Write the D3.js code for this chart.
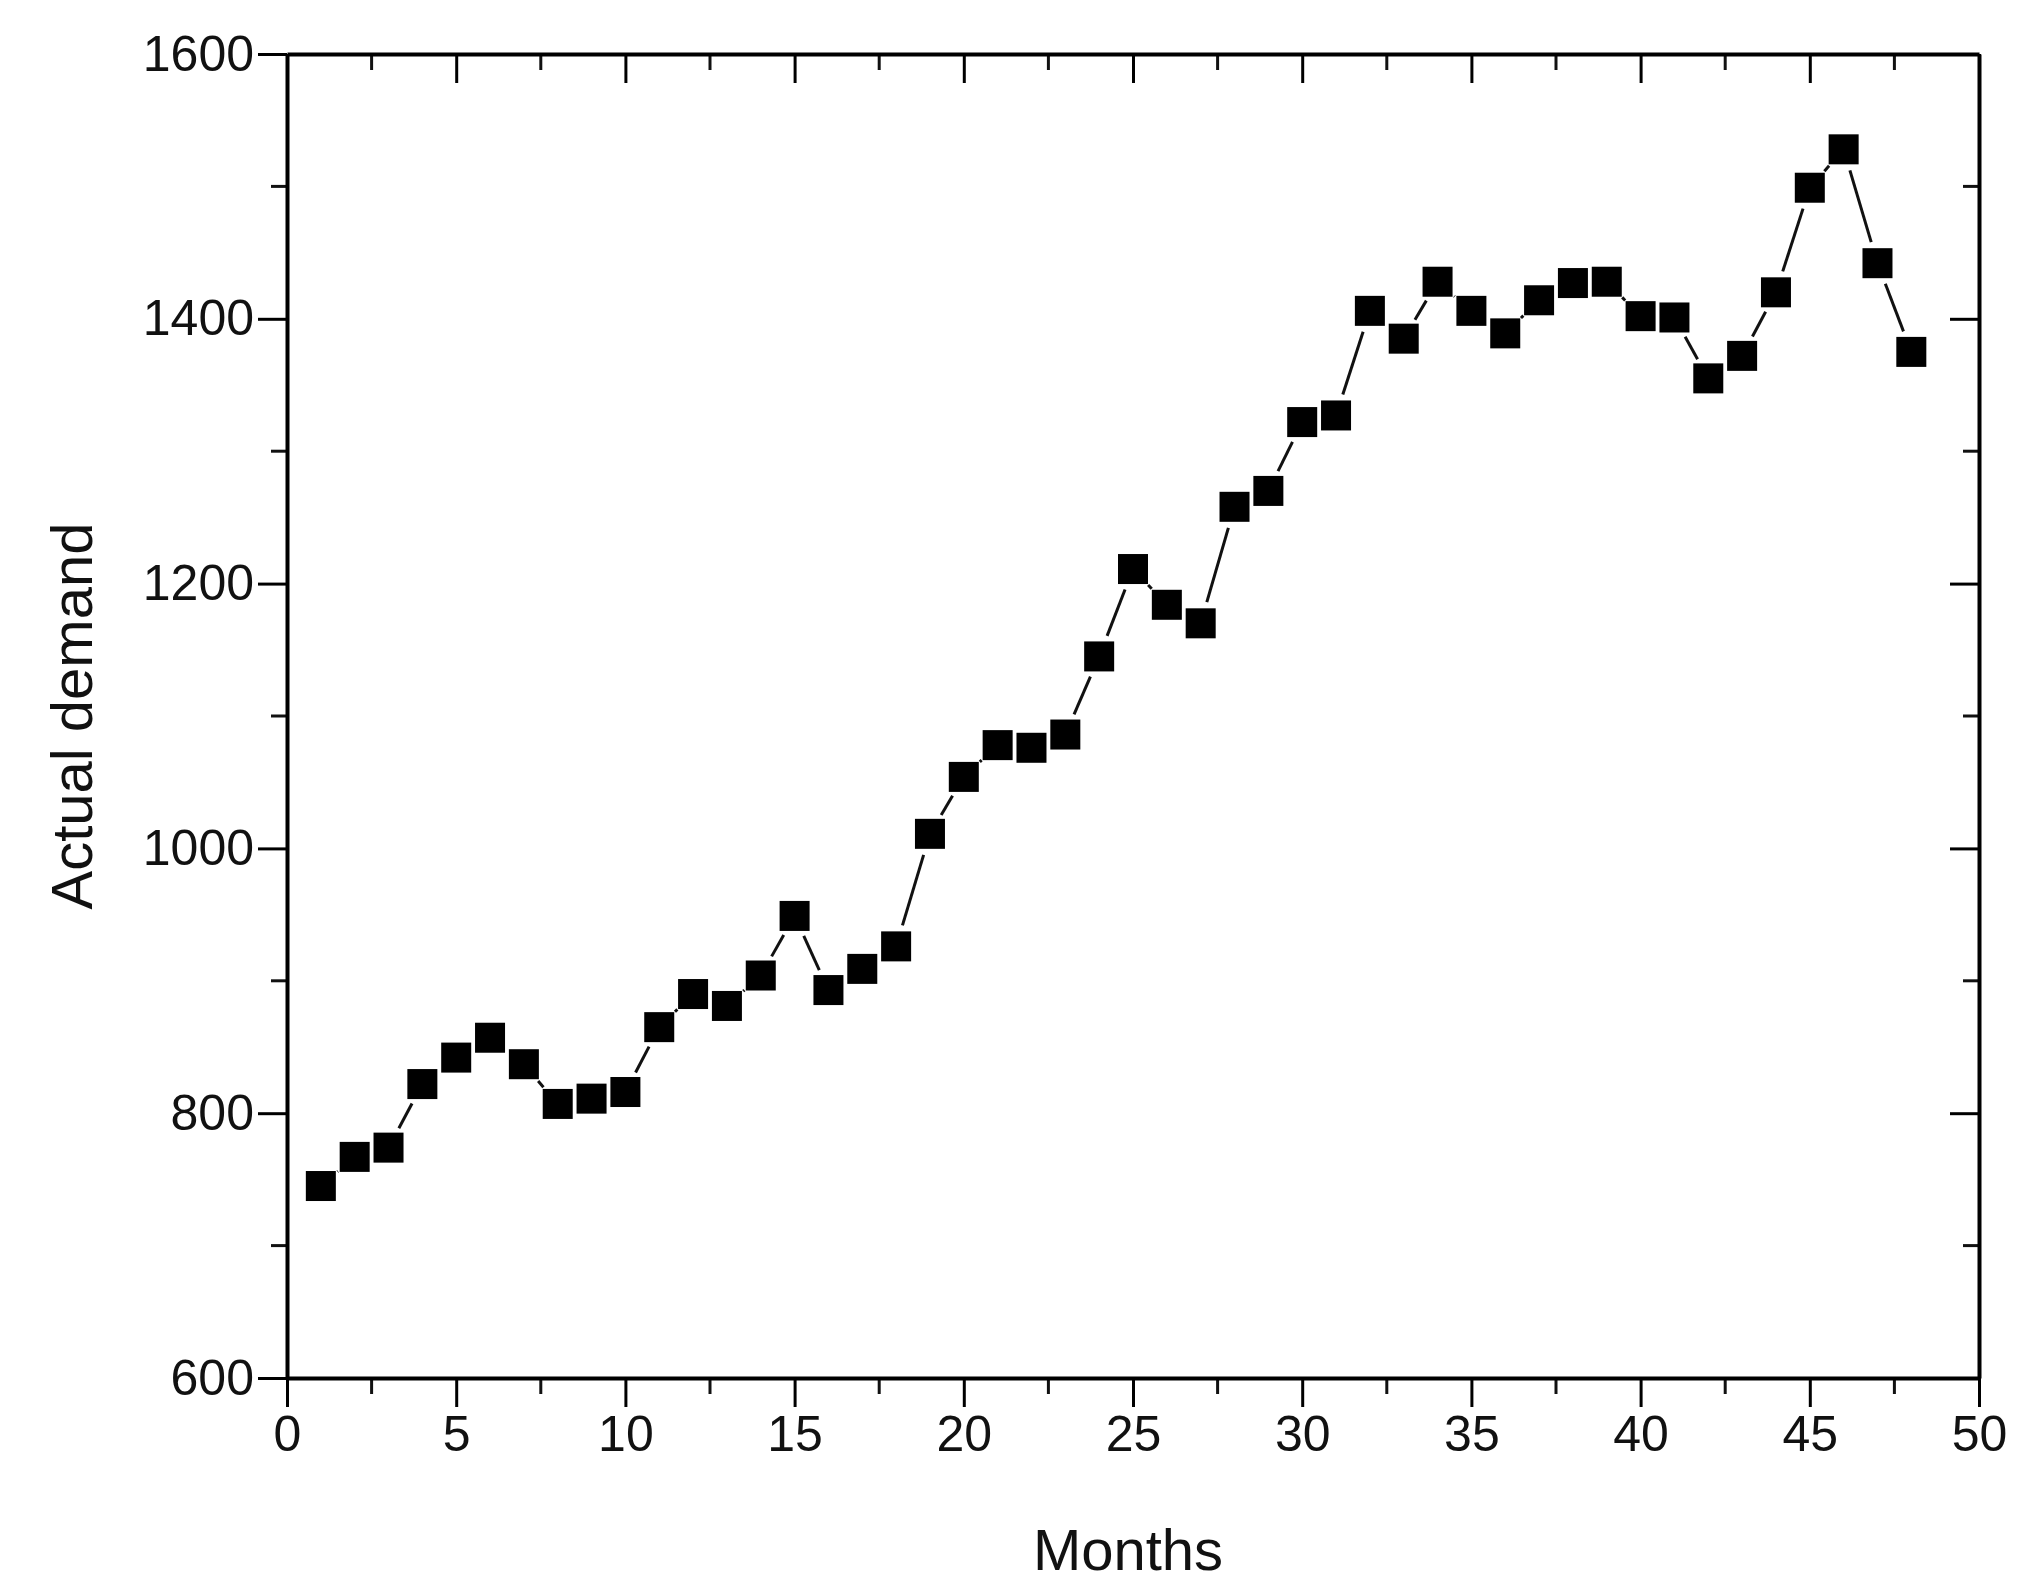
<!DOCTYPE html>
<html><head><meta charset="utf-8">
<script src="https://cdn.jsdelivr.net/npm/d3@7"></script>
<style>body{margin:0;background:#fff}text{font-family:"Liberation Sans",Arial,sans-serif;fill:#111}</style>
</head><body><svg id="chart" width="2029" height="1589"></svg>
<script>
// months and demand
var months = d3.range(1, 49);
var demand = [745,767,774,822,842,857,837,807,811,816,865,890,881,904,949,893,909,926,1011,1054,
  1078,1076,1086,1145,1211,1184,1170,1258,1270,1322,1327,1406,1385,1428,1406,1389,1414,1427,1428,1402,
  1401,1355,1372,1420,1499,1528,1442,1375];
var xTicks = [0,5,10,15,20,25,30,35,40,45,50];
var yTicks = [600,800,1000,1200,1400,1600];

var svg = d3.select("#chart");
var pLeft = 287, pRight = 1979, pTop = 54, pBottom = 1378;
var x = d3.scaleLinear().domain([0, 50]).range([pLeft, pRight]);
var y = d3.scaleLinear().domain([600, 1600]).range([pBottom, pTop]);

function axis(g, a, major) {
  g.call(a.tickValues(major).tickSizeOuter(0));
  g.selectAll(".tick line").attr("stroke-width", 3);
  g.select(".domain").attr("stroke-width", 4);
  g.selectAll("text").attr("font-size", 50);
}
function minorX(g) {
  g.selectAll("line.m").data(d3.range(2.5, 50, 5)).enter().append("line").attr("class", "m")
    .attr("x1", x).attr("x2", x).attr("y1", 0).attr("y2", 16).attr("stroke", "#111").attr("stroke-width", 3);
}
function minorY(g, dir) {
  g.selectAll("line.m").data(d3.range(700, 1600, 200)).enter().append("line").attr("class", "m")
    .attr("y1", y).attr("y2", y).attr("x1", 0).attr("x2", -16).attr("stroke", "#111").attr("stroke-width", 3);
}

// bottom axis, ticks out
var gx = svg.append("g").attr("transform", "translate(0," + pBottom + ")");
minorX(gx);
axis(gx, d3.axisBottom(x).tickSize(29).tickPadding(8).tickFormat(d3.format("d")), xTicks);
// left axis, ticks out
var gy = svg.append("g").attr("transform", "translate(" + pLeft + ",0)");
minorY(gy);
axis(gy, d3.axisLeft(y).tickSize(29).tickPadding(4).tickFormat(d3.format("d")), yTicks);
// top and right, ticks in
var gt = svg.append("g").attr("transform", "translate(0," + pTop + ")");
minorX(gt);
axis(gt, d3.axisTop(x).tickSize(-29).tickFormat(""), xTicks);
var gr = svg.append("g").attr("transform", "translate(" + pRight + ",0)");
minorY(gr);
axis(gr, d3.axisRight(y).tickSize(-29).tickFormat(""), yTicks);

// connecting segments with a gap around each marker
var pts = months.map(function (m, i) { return [x(m), y(demand[i])]; });
var gap = 22;
for (var i = 0; i < pts.length - 1; i++) {
  var a = pts[i], b = pts[i + 1];
  var dx = b[0] - a[0], dy = b[1] - a[1], len = Math.sqrt(dx * dx + dy * dy);
  if (len <= 2 * gap) continue;
  var ux = dx / len, uy = dy / len;
  svg.append("line")
    .attr("x1", a[0] + ux * gap).attr("y1", a[1] + uy * gap)
    .attr("x2", b[0] - ux * gap).attr("y2", b[1] - uy * gap)
    .attr("stroke", "#111").attr("stroke-width", 3);
}
svg.selectAll("rect.pt").data(pts).enter().append("rect").attr("class", "pt")
  .attr("x", function (d) { return d[0] - 15; }).attr("y", function (d) { return d[1] - 15; })
  .attr("width", 30).attr("height", 30).attr("fill", "#000");

svg.append("text").attr("x", (pLeft + pRight) / 2 - 5).attr("y", 1570).attr("text-anchor", "middle")
  .attr("font-size", 58).text("Months");
svg.append("text").attr("transform", "translate(92," + ((pTop + pBottom) / 2) + ") rotate(-90)")
  .attr("text-anchor", "middle").attr("font-size", 58).text("Actual demand");
</script></body></html>
